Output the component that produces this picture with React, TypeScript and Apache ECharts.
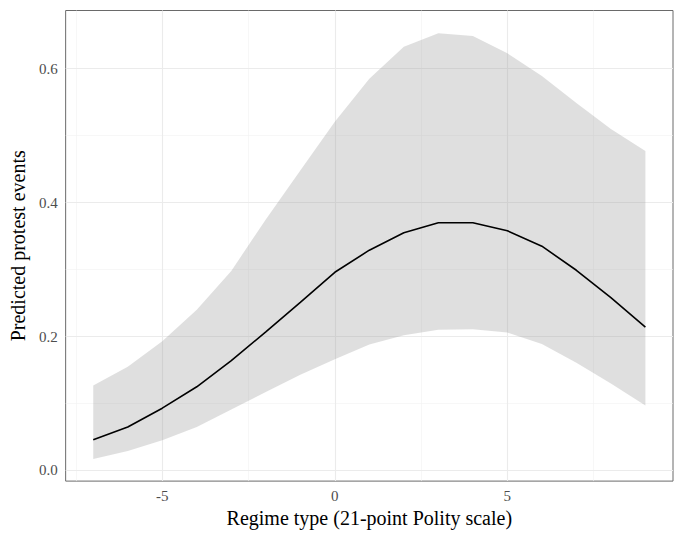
import React, { useEffect, useRef } from "react";
import * as echarts from "echarts";

const xValues = [-7, -6, -5, -4, -3, -2, -1, 0, 1, 2, 3, 4, 5, 6, 7, 8, 9];
const fitValues = [0.046, 0.065, 0.093, 0.125, 0.164, 0.207, 0.251, 0.296, 0.329, 0.355, 0.370, 0.370, 0.358, 0.335, 0.299, 0.258, 0.214];
const upperValues = [0.127, 0.155, 0.193, 0.240, 0.298, 0.375, 0.448, 0.521, 0.585, 0.633, 0.653, 0.649, 0.623, 0.589, 0.549, 0.510, 0.477];
const lowerValues = [0.017, 0.029, 0.045, 0.065, 0.091, 0.117, 0.143, 0.166, 0.188, 0.202, 0.210, 0.211, 0.206, 0.189, 0.161, 0.130, 0.097];

const xMajorTicks = [-5, 0, 5];
const xMinorGrid = [-7.5, -2.5, 2.5, 7.5];
const yMajorTicks = [0, 0.2, 0.4, 0.6];
const yMinorGrid = [0.1, 0.3, 0.5];

const xTitle = "Regime type (21-point Polity scale)";
const yTitle = "Predicted protest events";

export default function App() {
  const ref = useRef<HTMLDivElement>(null);
  useEffect(() => {
    if (!ref.current) return;
    const chart = echarts.init(ref.current, null, { renderer: "svg" });
    const font = "'Liberation Serif', 'Times New Roman', serif";
    const gridMajor = { color: "#EBEBEB", width: 1.1, type: "solid" as const };
    const gridMinor = { color: "#F2F2F2", width: 0.6, type: "solid" as const };
    const markData: any[] = [
      ...xMinorGrid.map((v) => ({ xAxis: v, lineStyle: gridMinor })),
      ...yMinorGrid.map((v) => ({ yAxis: v, lineStyle: gridMinor })),
      ...xMajorTicks.map((v) => ({ xAxis: v, lineStyle: gridMajor })),
      ...yMajorTicks.map((v) => ({ yAxis: v, lineStyle: gridMajor })),
    ];
    const bandData = xValues.map((x, i) => [x, lowerValues[i], upperValues[i]]);
    chart.setOption({
      animation: false,
      backgroundColor: "#ffffff",
      grid: {
        left: 65,
        right: 7,
        top: 10.5,
        bottom: 42,
        show: true,
        backgroundColor: "#ffffff",
        borderColor: "#6a6a6a",
        borderWidth: 1,
      },
      xAxis: {
        type: "value",
        min: -7.8,
        max: 9.8,
        splitLine: { show: false },
        axisLine: { show: false },
        axisTick: {
          show: true,
          customValues: xMajorTicks,
          length: 5,
          lineStyle: { color: "#555" },
        },
        axisLabel: {
          customValues: xMajorTicks,
          color: "#4D4D4D",
          fontFamily: font,
          fontSize: 15,
          margin: 7,
        },
        name: xTitle,
        nameLocation: "middle",
        nameGap: 21,
        nameTextStyle: { color: "#000", fontFamily: font, fontSize: 20 },
      },
      yAxis: {
        type: "value",
        min: -0.0159,
        max: 0.687,
        splitLine: { show: false },
        axisLine: { show: false },
        axisTick: {
          show: true,
          customValues: yMajorTicks,
          length: 5,
          lineStyle: { color: "#555" },
        },
        axisLabel: {
          customValues: yMajorTicks,
          color: "#4D4D4D",
          fontFamily: font,
          fontSize: 15,
          margin: 8,
          formatter: (v: number) => v.toFixed(1),
        },
        name: yTitle,
        nameLocation: "middle",
        nameGap: 28,
        nameTextStyle: { color: "#000", fontFamily: font, fontSize: 20 },
      },
      series: [
        {
          type: "line",
          data: [],
          z: 1,
          silent: true,
          markLine: {
            silent: true,
            symbol: ["none", "none"],
            label: { show: false },
            data: markData,
            z: 1,
          },
        },
        {
          type: "custom",
          z: 3,
          silent: true,
          data: bandData,
          encode: { x: 0, y: [1, 2] },
          renderItem: (params: any, api: any) => {
            if (params.dataIndex !== 0) return null;
            const pts: number[][] = [];
            for (let i = 0; i < bandData.length; i++) {
              pts.push(api.coord([bandData[i][0], bandData[i][2]]));
            }
            for (let i = bandData.length - 1; i >= 0; i--) {
              pts.push(api.coord([bandData[i][0], bandData[i][1]]));
            }
            return {
              type: "polygon",
              shape: { points: pts },
              style: { fill: "rgba(150,150,150,0.3)" },
            };
          },
        },
        {
          type: "line",
          z: 4,
          symbol: "none",
          silent: true,
          lineStyle: { color: "#000", width: 1.6 },
          data: xValues.map((x, i) => [x, fitValues[i]]),
        },
      ],
    });
    return () => chart.dispose();
  }, []);
  return <div ref={ref} style={{ width: 680, height: 533, position: "absolute", left: 0, top: 0 }} />;
}
